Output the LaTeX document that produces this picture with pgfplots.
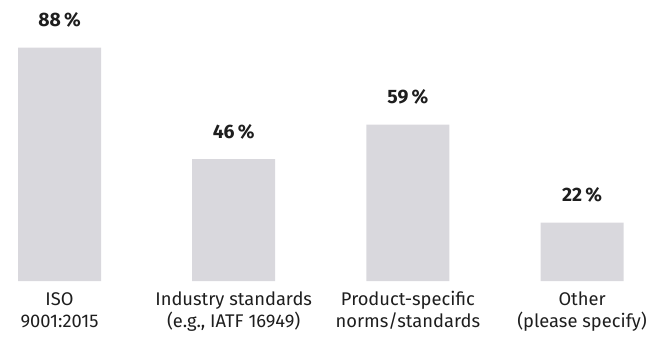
\documentclass[border=0pt]{standalone}
\usepackage{pgfplots}
\pgfplotsset{compat=1.18}
\usepackage{fontspec}
\setmainfont{Fira Sans}
\definecolor{barc}{HTML}{D9D8DD}
\definecolor{txt}{HTML}{1E1E1E}
\begin{document}
\begin{tikzpicture}[lab/.style={anchor=base, font=\fontsize{18.4}{21}\selectfont, text=txt, inner sep=0pt}]
\useasboundingbox (0,-66bp) rectangle (658bp,281bp);
\begin{axis}[
  at={(0,0)}, anchor=south west,
  scale only axis, width=658bp, height=281bp,
  xmin=-0.3416, xmax=3.436, ymin=0, ymax=106,
  axis lines=none,
  ybar, bar width=83bp,
  xtick=data, xticklabels={},
  /pgf/number format/assume math mode=true,
  nodes near coords={\textbf{\pgfmathprintnumber{\pgfplotspointmeta}\,\%}},
  every node near coord/.append style={font=\fontsize{19.5}{22}\selectfont, text=txt, anchor=base, inner sep=0pt, yshift=21bp},
  clip=false,
]
\addplot[fill=barc, draw=none] coordinates {(0,88) (1,46) (2,59) (3,22)};
\node[lab, yshift=-24.5bp] at (axis cs:0,0) {ISO};
\node[lab, yshift=-46.5bp] at (axis cs:0,0) {9001:2015};
\node[lab, yshift=-24.5bp] at (axis cs:1,0) {Industry standards};
\node[lab, yshift=-46.5bp] at (axis cs:1,0) {(e.g., IATF 16949)};
\node[lab, yshift=-24.5bp] at (axis cs:2,0) {Product-specific};
\node[lab, yshift=-46.5bp] at (axis cs:2,0) {norms/standards};
\node[lab, yshift=-24.5bp] at (axis cs:3,0) {Other};
\node[lab, yshift=-46.5bp] at (axis cs:3,0) {(please specify)};
\end{axis}
\end{tikzpicture}
\end{document}
